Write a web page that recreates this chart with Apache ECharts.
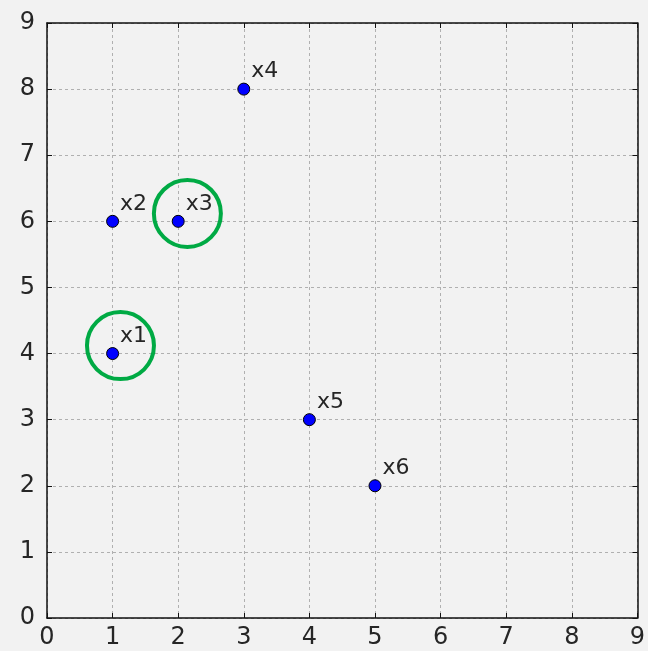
<!DOCTYPE html>
<html><head><meta charset="utf-8">
<script src="https://cdn.jsdelivr.net/npm/echarts@6/dist/echarts.min.js"></script>
<style>html,body{margin:0;padding:0;background:#f2f2f2;overflow:hidden}#c{width:648px;height:651px}</style>
</head><body><div id="c"></div>
<script>
const pointNames = ['x1','x2','x3','x4','x5','x6'];
const xValues = [1, 1, 2, 3, 4, 5];
const yValues = [4, 6, 6, 8, 3, 2];
const circleX = [1.12, 2.14];
const circleY = [4.12, 6.12];
const tickValues = [0,1,2,3,4,5,6,7,8,9];

const chart = echarts.init(document.getElementById('c'), null, {renderer:'canvas'});
const font = 'DejaVu Sans';
const axisBase = (pos, show) => ({
  type:'value', min:0, max:9, interval:1, position:pos,
  axisLine:{show:true, onZero:false, lineStyle:{color:'#111', width:1.5}},
  axisTick:{show:true, inside:true, length:5, lineStyle:{color:'#111', width:1}},
  axisLabel:{show:show, color:'#262626', fontFamily:font, fontSize:24},
  splitLine:{show:false}
});
const xMain = axisBase('bottom', true);
xMain.axisLabel.margin = 8;
xMain.splitLine = {show:true, lineStyle:{color:'#b0b0b0', type:[3,3], width:1}};
const yMain = axisBase('left', true);
yMain.axisLabel.margin = 12;
yMain.splitLine = {show:true, lineStyle:{color:'#b0b0b0', type:[3,3], width:1}};

chart.setOption({
  backgroundColor:'#f2f2f2',
  animation:false,
  grid:{left:47, right:7, top:23, bottom:33, containLabel:false},
  xAxis:[xMain, axisBase('top', false)],
  yAxis:[yMain, axisBase('right', false)],
  series:[
    {
      type:'scatter', xAxisIndex:0, yAxisIndex:0,
      data: xValues.map((x,i)=>({value:[x, yValues[i]], name:pointNames[i]})),
      symbol:'circle', symbolSize:12,
      itemStyle:{color:'#0000ff', borderColor:'#000', borderWidth:1, opacity:1},
      label:{show:true, formatter:p=>p.name, position:[14,-11], align:'left', verticalAlign:'middle',
             color:'#262626', fontFamily:font, fontSize:22},
      z:3
    },
    {
      type:'scatter', xAxisIndex:0, yAxisIndex:0,
      data: circleX.map((x,i)=>[x, circleY[i]]),
      symbol:'circle', symbolSize:67,
      itemStyle:{color:'rgba(0,0,0,0)', borderColor:'#00aa44', borderWidth:4, opacity:1},
      z:4, silent:true
    }
  ]
});
</script></body></html>
